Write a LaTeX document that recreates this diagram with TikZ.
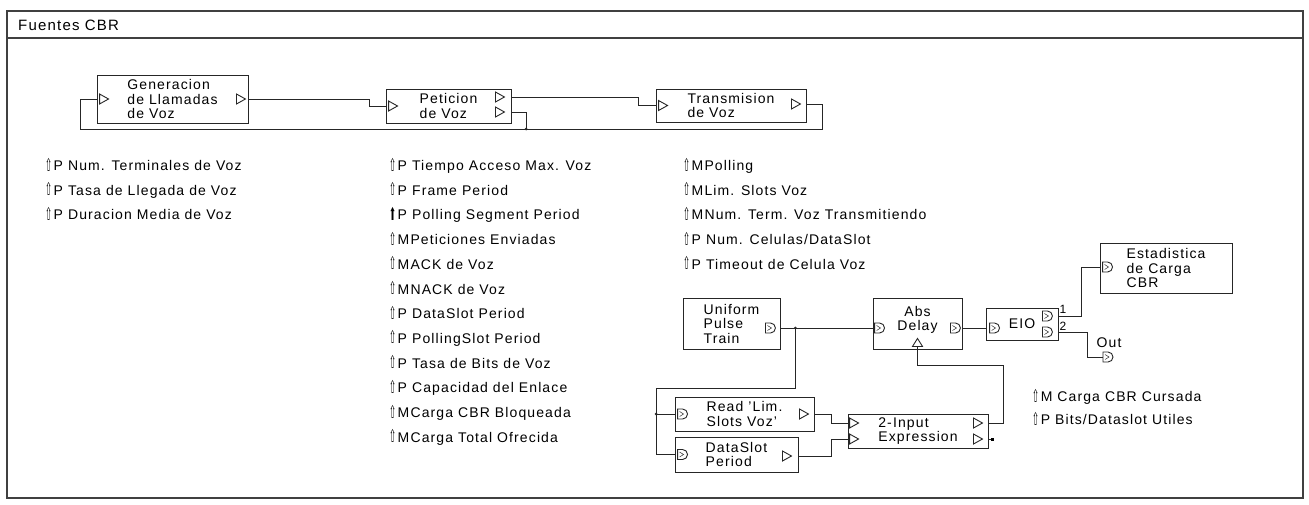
\documentclass[tikz,border=0pt]{standalone}
\usepackage{fontspec}
\setmainfont{Liberation Sans}[LetterSpace=8]
\newfontfamily\symfont{DejaVu Sans}
\usetikzlibrary{positioning,calc}

\newcommand{\pin}{{\symfont\raisebox{-0.5pt}{\scalebox{0.6}[1.25]{⇧}}}\hspace{1.5pt}}
\newcommand{\pinb}{{\symfont\raisebox{-0.5pt}{\scalebox{0.6}[1.25]{⬆}}}\hspace{1.5pt}}

\tikzset{
  frame/.style={draw=black!75, line width=1.2pt},
  wire/.style={draw=black!85, line width=0.9pt},
  blk/.style={draw=black!85, line width=0.9pt, align=left, inner sep=0pt},
  param/.style={anchor=west, inner sep=0pt, text height=10pt, text depth=3pt},
  tag/.style={inner sep=0pt, font=\fontsize{12pt}{12pt}\selectfont},
  porttri/.pic={\draw[wire] (0pt,5pt) -- (9pt,0pt) -- (0pt,-5pt) -- cycle;},
  portd/.pic={\draw[wire] (0pt,5pt) -- (5pt,5pt) arc[start angle=90, end angle=-90, radius=5pt] -- (0pt,-5pt) -- cycle;
              \draw[wire, line width=0.5pt] (2pt,2.5pt) -- (6pt,0pt) -- (2pt,-2.5pt);},
  portup/.pic={\draw[wire] (-5pt,-4pt) -- (5pt,-4pt) -- (0pt,4pt) -- cycle;}
}

\begin{document}
\begin{tikzpicture}[x=1pt, y=-1pt, font=\fontsize{14pt}{14.5pt}\selectfont]
  \useasboundingbox (0,0) rectangle (1309,504);

  % window
  \draw[frame] (7,11) rectangle (1303,498);
  \draw[frame] (7,38) -- (1303,38);
  \node[anchor=west, inner sep=0pt, font=\fontsize{15pt}{15pt}\selectfont] (title) at (18,25) {Fuentes CBR};

  % upper chain
  \node[blk, minimum width=151pt, minimum height=48pt] (gen) at (172.5,99) {Generacion\\de Llamadas\\de Voz};
  \node[blk, minimum width=125pt, minimum height=34pt] (pet) at (448.5,106) {Peticion\\de Voz};
  \node[blk, minimum width=150pt, minimum height=33pt] (trans) at (731,105.5) {Transmision\\de Voz};

  \pic at ([xshift=3pt]gen.west) {porttri};
  \pic at ([xshift=-12pt]gen.east) {porttri};
  \pic at ([xshift=3pt]pet.west) {porttri};
  \pic at ([xshift=-16pt,yshift=9pt]pet.east) {porttri};
  \pic at ([xshift=-16pt,yshift=-6pt]pet.east) {porttri};
  \pic at ([xshift=3pt]trans.west) {porttri};
  \pic at ([xshift=-15pt,yshift=1.5pt]trans.east) {porttri};

  \coordinate (peto1) at ([yshift=9pt]pet.east);
  \coordinate (peto2) at ([yshift=-6pt]pet.east);
  \coordinate (transo) at ([yshift=1.5pt]trans.east);
  \coordinate (fbk) at (822,129);
  \coordinate (fbkl) at (80,99);
  \coordinate (join1) at (526,129);

  \draw[wire] (gen.east) -| ([xshift=-16pt]pet.west) -- (pet.west);
  \draw[wire] (peto1) -| ([xshift=-17pt]trans.west) -- (trans.west);
  \draw[wire] (transo) -| (fbk) -| (fbkl) -- (gen.west);
  \draw[wire] (peto2) -| (join1);
  \fill[black!85] (join1) circle (1.5pt);

  % parameters
  \node[param] (ntv) at (45,167) {\pin P Num. Terminales de Voz};
  \node[param, below right=11.3pt and 0pt of ntv.south west] (tlv) {\pin P Tasa de Llegada de Voz};
  \node[param, below right=11.3pt and 0pt of tlv.south west] (dmv) {\pin P Duracion Media de Voz};

  \node[param] (tam) at (389,167) {\pin P Tiempo Acceso Max. Voz};
  \node[param, below right=11.3pt and 0pt of tam.south west] (fper) {\pin P Frame Period};
  \node[param, below right=11.3pt and 0pt of fper.south west] (psp) {\pinb P Polling Segment Period};
  \node[param, below right=11.3pt and 0pt of psp.south west] (pen) {\pin MPeticiones Enviadas};
  \node[param, below right=11.3pt and 0pt of pen.south west] (ack) {\pin MACK de Voz};
  \node[param, below right=11.3pt and 0pt of ack.south west] (nack) {\pin MNACK de Voz};
  \node[param, below right=11.3pt and 0pt of nack.south west] (dsp) {\pin P DataSlot Period};
  \node[param, below right=11.3pt and 0pt of dsp.south west] (plsp) {\pin P PollingSlot Period};
  \node[param, below right=11.3pt and 0pt of plsp.south west] (tbv) {\pin P Tasa de Bits de Voz};
  \node[param, below right=11.3pt and 0pt of tbv.south west] (cap) {\pin P Capacidad del Enlace};
  \node[param, below right=11.3pt and 0pt of cap.south west] (ccb) {\pin MCarga CBR Bloqueada};
  \node[param, below right=11.3pt and 0pt of ccb.south west] (cto) {\pin MCarga Total Ofrecida};

  \node[param] (poll) at (683,167) {\pin MPolling};
  \node[param, below right=11.3pt and 0pt of poll.south west] (lsv) {\pin MLim. Slots Voz};
  \node[param, below right=11.3pt and 0pt of lsv.south west] (ntt) {\pin MNum. Term. Voz Transmitiendo};
  \node[param, below right=11.3pt and 0pt of ntt.south west] (ncd) {\pin P Num. Celulas/DataSlot};
  \node[param, below right=11.3pt and 0pt of ncd.south west] (tcv) {\pin P Timeout de Celula Voz};

  \node[param] (ccc) at (1032,398) {\pin M Carga CBR Cursada};
  \node[param, below right=10pt and 0pt of ccc.south west] (bdu) {\pin P Bits/Dataslot Utiles};

  % lower chain
  \node[blk, minimum width=97pt, minimum height=51pt] (uni) at (731.5,323.5) {Uniform\\Pulse\\Train};
  \node[blk, align=center, minimum width=89pt, minimum height=51pt] (abs) at (917.5,323.5) {Abs\\Delay\\[-4pt]\mbox{}};
  \node[blk, minimum width=72pt, minimum height=32pt] (eio) at (1022,324) {EIO};
  \node[blk, minimum width=132pt, minimum height=50pt] (est) at (1166,268) {Estadistica\\de Carga\\CBR};
  \node[blk, minimum width=139pt, minimum height=34pt] (rd) at (744.5,414) {Read 'Lim.\\Slots Voz'};
  \node[blk, minimum width=123pt, minimum height=35pt] (ds) at (736.5,454.5) {DataSlot\\Period};
  \node[blk, minimum width=140pt, minimum height=34pt] (expr) at (918,431) {2-Input\\Expression};

  \coordinate (outp) at (1103,357);
  \node[inner sep=0pt] (outlbl) at (1109,343) {Out};
  \node[tag] (n1) at (1063,309) {1};
  \node[tag] (n2) at (1063,326) {2};

  \pic at ([xshift=-15pt,yshift=-4.5pt]uni.east) {portd};
  \pic at ([xshift=2pt,yshift=-4.5pt]abs.west) {portd};
  \pic at ([xshift=-12pt,yshift=-4.5pt]abs.east) {portd};
  \pic at ([yshift=7pt]abs.south) {portup};
  \pic at ([xshift=4pt,yshift=-4pt]eio.west) {portd};
  \pic at ([xshift=-16pt,yshift=8pt]eio.east) {portd};
  \pic at ([xshift=-16pt,yshift=-8pt]eio.east) {portd};
  \pic at ([xshift=3pt,yshift=1pt]est.west) {portd};
  \pic at (outp) {portd};
  \pic at ([xshift=3pt]rd.west) {portd};
  \pic at ([xshift=-15pt]rd.east) {porttri};
  \pic at ([xshift=3pt]ds.west) {portd};
  \pic at ([xshift=-16pt,yshift=-1.5pt]ds.east) {porttri};
  \pic at ([xshift=2pt,yshift=8pt]expr.west) {porttri};
  \pic at ([xshift=2pt,yshift=-8pt]expr.west) {porttri};
  \pic at ([xshift=-15pt,yshift=8pt]expr.east) {porttri};
  \pic at ([xshift=-15pt,yshift=-8pt]expr.east) {porttri};

  \coordinate (unio) at ([yshift=-4.5pt]uni.east);
  \coordinate (split) at ([xshift=15pt]unio);
  \coordinate (bus) at (656,388);
  \coordinate (fb2) at (1003,365);
  \coordinate (dang) at ([xshift=4pt,yshift=-8pt]expr.east);

  \draw[wire] (unio) -- ([yshift=-4.5pt]abs.west);
  \fill[black!85] (split) circle (1.5pt);
  \draw[wire] (split) |- (bus) |- (ds.west);
  \draw[wire] (rd.west -| bus) -- (rd.west);
  \fill[black!85] (rd.west -| bus) circle (1.5pt);
  \draw[wire] (rd.east) -| ([xshift=-16pt,yshift=8pt]expr.west) -- ([yshift=8pt]expr.west);
  \draw[wire] ([yshift=-1.5pt]ds.east) -| ([xshift=-16pt,yshift=-8pt]expr.west) -- ([yshift=-8pt]expr.west);
  \draw[wire] ([yshift=8pt]expr.east) -| (fb2) -| ([yshift=3pt]abs.south);
  \draw[wire] ([yshift=-8pt]expr.east) -- (dang);
  \fill[black] ([xshift=-1.5pt,yshift=-1.5pt]dang) rectangle ([xshift=1.5pt,yshift=1.5pt]dang);
  \draw[wire] ([yshift=-4.5pt]abs.east) -- ([yshift=-4pt]eio.west);
  \draw[wire] ([yshift=8pt]eio.east) -| ([xshift=-18pt,yshift=1pt]est.west) -- ([yshift=1pt]est.west);
  \draw[wire] ([yshift=-8pt]eio.east) -| ([xshift=-16pt]outp) -- (outp);
\end{tikzpicture}
\end{document}
